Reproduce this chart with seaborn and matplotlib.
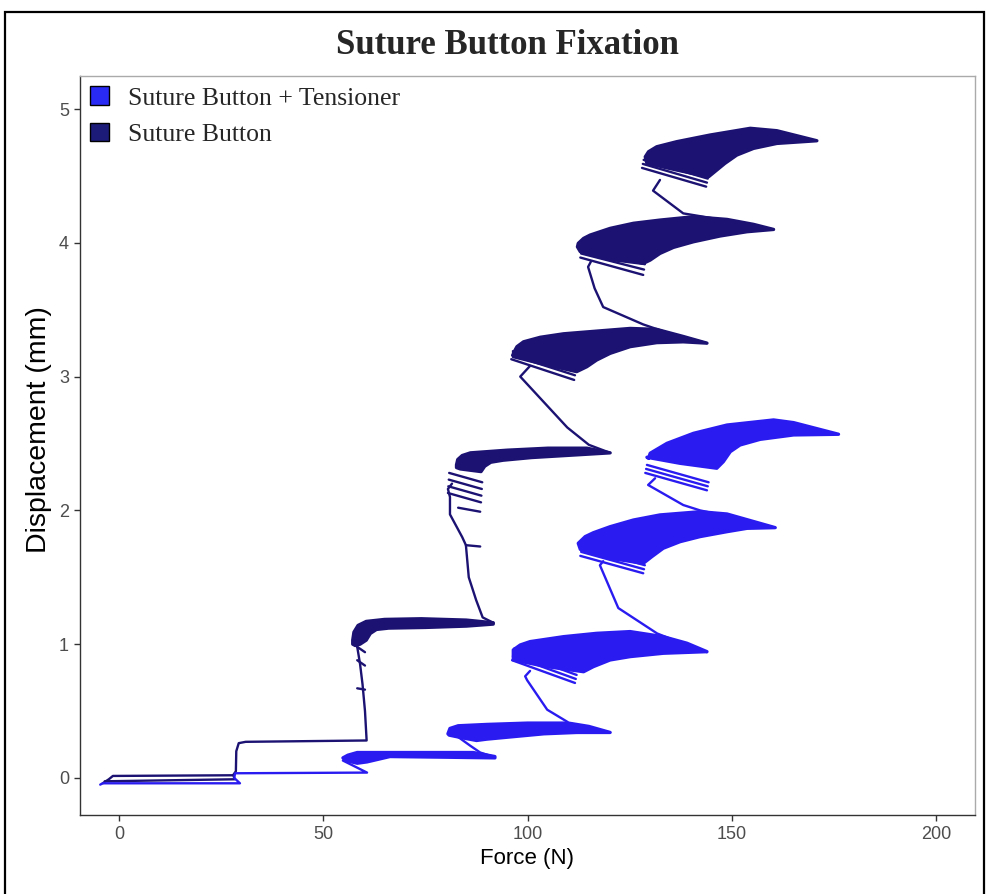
import matplotlib
matplotlib.use("Agg")
from matplotlib import pyplot as plt
from matplotlib.patches import Patch, Rectangle
import pandas as pd
import seaborn as sns

# colours of the two constructs
SB_COLOR = "#1b1272"
SBT_COLOR = "#2a1cf0"
SERIES = ["Suture Button + Tensioner", "Suture Button"]

# ---------------- Suture Button (force N, displacement mm) ----------------
# ramps between load steps
sb_ramps = [
    [(-4.0, -0.04), (-2.5, -0.01), (-1.5, 0.015), (27.9, 0.02), (28.6, 0.05),
     (28.7, 0.20), (29.3, 0.26), (31.0, 0.27), (60.6, 0.28), (60.2, 0.50),
     (59.6, 0.70), (59.0, 0.85), (58.3, 0.98), (57.3, 1.05)],
    [(-3.5, -0.025), (28.3, -0.01), (28.0, 0.02)],
    [(91.6, 1.16), (89.0, 1.20), (87.4, 1.33), (85.6, 1.50), (84.9, 1.74),
     (84.0, 1.80), (81.0, 1.97), (81.0, 2.10), (80.5, 2.16), (81.5, 2.20)],
    [(120.2, 2.43), (115.0, 2.49), (109.7, 2.62), (98.2, 3.00), (100.6, 3.08)],
    [(143.9, 3.25), (135.0, 3.32), (128.3, 3.39), (118.5, 3.52), (116.4, 3.66),
     (114.8, 3.82), (115.5, 3.86)],
    [(160.2, 4.10), (150.0, 4.16), (138.1, 4.22), (130.7, 4.39), (132.4, 4.47)],
]
# first loading cycles, still apart from the dense band
sb_first_cycles = [
    [(58.3, 0.98), (60.2, 0.94)], [(58.3, 0.88), (60.2, 0.84)],
    [(58.3, 0.67), (60.2, 0.66)],
    [(84.9, 1.74), (88.4, 1.73)], [(83.0, 2.02), (88.4, 1.99)],
    [(80.5, 2.13), (88.6, 2.06)], [(80.6, 2.18), (88.7, 2.11)],
    [(80.7, 2.23), (88.8, 2.16)], [(80.8, 2.28), (88.9, 2.21)],
    [(96.0, 3.13), (111.4, 2.975)], [(96.2, 3.16), (111.6, 3.01)],
    [(96.4, 3.19), (111.8, 3.04)],
    [(112.9, 3.89), (128.3, 3.76)], [(113.1, 3.92), (128.5, 3.80)],
    [(113.3, 3.95), (128.7, 3.84)],
    [(128.0, 4.56), (143.7, 4.42)], [(128.2, 4.59), (143.9, 4.45)],
    [(128.4, 4.62), (144.1, 4.48)],
]
# dense cyclic bands: (upper edge left->right, lower edge right->left)
sb_bands = [
    ([(57.2, 1.03), (57.5, 1.09), (58.5, 1.14), (60.5, 1.17), (65.0, 1.185),
      (74.0, 1.19), (85.0, 1.18), (91.6, 1.16)],
     [(91.6, 1.15), (85.0, 1.135), (75.0, 1.125), (66.0, 1.12), (63.0, 1.11),
      (61.5, 1.08), (60.5, 1.03), (59.0, 1.00), (57.8, 0.99), (57.2, 1.00)]),
    ([(82.6, 2.34), (82.9, 2.38), (84.0, 2.41), (86.0, 2.43), (95.0, 2.45),
      (105.0, 2.465), (114.5, 2.465), (120.2, 2.43)],
     [(120.2, 2.43), (112.0, 2.415), (101.0, 2.395), (94.0, 2.375), (91.0, 2.36),
      (89.5, 2.33), (88.6, 2.29), (86.0, 2.30), (83.5, 2.31), (82.6, 2.32)]),
    ([(96.5, 3.174), (97.4, 3.224), (99.0, 3.26), (103.1, 3.294), (108.8, 3.32),
      (116.9, 3.34), (125.1, 3.36), (131.6, 3.353), (138.1, 3.30), (143.9, 3.25)],
     [(143.9, 3.25), (138.1, 3.26), (131.6, 3.254), (125.1, 3.224), (120.2, 3.174),
      (116.9, 3.124), (114.5, 3.074), (112.0, 3.037), (104.7, 3.087), (96.5, 3.149)]),
    ([(112.4, 3.996), (113.7, 4.033), (115.3, 4.058), (120.2, 4.108), (125.9, 4.146),
      (132.4, 4.170), (140.6, 4.195), (148.8, 4.175), (155.3, 4.138), (160.2, 4.100)],
     [(160.2, 4.100), (153.7, 4.083), (147.1, 4.051), (140.6, 4.008), (135.7, 3.966),
      (132.4, 3.921), (130.0, 3.871), (128.3, 3.846), (120.2, 3.876), (112.9, 3.934),
      (112.2, 3.970)]),
    ([(128.8, 4.643), (129.6, 4.681), (131.6, 4.718), (136.5, 4.756), (144.7, 4.806),
      (154.5, 4.856), (161.0, 4.838), (170.8, 4.763)],
     [(170.8, 4.763), (161.0, 4.743), (155.3, 4.706), (151.2, 4.656), (148.3, 4.594),
      (146.3, 4.544), (144.3, 4.494), (136.5, 4.544), (129.2, 4.594)]),
]

# ---------------- Suture Button + Tensioner ----------------
sbt_ramps = [
    [(-4.6, -0.05), (-4.0, -0.04), (29.6, -0.04), (28.2, 0.0), (28.4, 0.035),
     (60.7, 0.04), (54.8, 0.13), (56.0, 0.16)],
    [(92.0, 0.155), (88.4, 0.19), (86.0, 0.24), (81.0, 0.35)],
    [(120.2, 0.34), (110.0, 0.41), (109.7, 0.42), (104.8, 0.51), (99.9, 0.73),
     (99.4, 0.76), (100.6, 0.80)],
    [(143.9, 0.94), (135.0, 1.04), (131.7, 1.08), (122.2, 1.27), (117.7, 1.59), (118.5, 1.62)],
    [(160.6, 1.87), (150.0, 1.95), (142.2, 2.00), (138.1, 2.04), (129.5, 2.19), (131.2, 2.24)],
]
sbt_first_cycles = [
    [(96.2, 0.88), (111.6, 0.71)], [(96.4, 0.91), (111.8, 0.74)],
    [(96.6, 0.94), (112.0, 0.77)], [(96.8, 0.97), (112.2, 0.80)],
    [(112.9, 1.66), (128.3, 1.53)], [(113.1, 1.69), (128.5, 1.56)],
    [(113.3, 1.72), (128.7, 1.59)],
    [(128.8, 2.28), (143.9, 2.15)], [(129.0, 2.31), (144.1, 2.18)],
    [(129.2, 2.34), (144.3, 2.21)],
]
sbt_bands = [
    ([(54.8, 0.15), (56.0, 0.17), (58.3, 0.19), (74.4, 0.19), (86.7, 0.19), (92.0, 0.16)],
     [(92.0, 0.15), (80.0, 0.155), (66.3, 0.16), (60.7, 0.12), (58.3, 0.11), (55.5, 0.13)]),
    ([(80.5, 0.33), (81.0, 0.37), (83.0, 0.39), (90.0, 0.40), (100.0, 0.41),
      (110.0, 0.41), (115.0, 0.385), (120.2, 0.34)],
     [(120.2, 0.34), (112.0, 0.34), (104.0, 0.33), (97.0, 0.31), (90.0, 0.29),
      (87.5, 0.28), (84.0, 0.30), (80.8, 0.32)]),
    ([(96.5, 0.957), (98.2, 0.994), (100.6, 1.019), (108.8, 1.056), (116.9, 1.081),
      (125.1, 1.094), (133.2, 1.056), (139.0, 1.007), (143.9, 0.944)],
     [(143.9, 0.944), (133.2, 0.932), (125.1, 0.907), (120.2, 0.882), (116.1, 0.832),
      (113.7, 0.794), (104.7, 0.832), (96.5, 0.882)]),
    ([(112.4, 1.754), (114.1, 1.804), (116.1, 1.833), (120.2, 1.878), (125.9, 1.928),
      (132.4, 1.966), (142.2, 1.990), (148.8, 1.973), (160.6, 1.871)],
     [(160.6, 1.871), (153.7, 1.866), (148.8, 1.841), (142.2, 1.804), (137.3, 1.766),
      (133.2, 1.717), (130.4, 1.654), (128.3, 1.604), (120.2, 1.642), (112.9, 1.709)]),
    ([(129.6, 2.389), (130.0, 2.427), (134.1, 2.501), (140.6, 2.576), (148.8, 2.638),
      (160.2, 2.676), (165.1, 2.656), (176.1, 2.569)],
     [(176.1, 2.569), (165.1, 2.564), (156.9, 2.531), (152.0, 2.489), (149.6, 2.439),
      (147.9, 2.364), (146.3, 2.315), (137.3, 2.352), (129.2, 2.397)]),
]

x_ticks = [0, 50, 100, 150, 200]
y_ticks = [0, 1, 2, 3, 4, 5]


def build_frame():
    rows = []
    for name, segs in [("Suture Button", sb_ramps + sb_first_cycles),
                       ("Suture Button + Tensioner", sbt_ramps + sbt_first_cycles)]:
        for i, seg in enumerate(segs):
            for f, d in seg:
                rows.append({"series": name, "seg": f"{name}-{i}", "force": f, "disp": d})
    return pd.DataFrame(rows)


sns.set_style("white")
plt.rcParams["font.family"] = ["Liberation Sans", "DejaVu Sans"]

fig = plt.figure(figsize=(9.86, 8.94), dpi=100)
ax = fig.add_axes([80 / 986, 1 - 815 / 894, 895 / 986, 739 / 894])

palette = {"Suture Button": SB_COLOR, "Suture Button + Tensioner": SBT_COLOR}
df = build_frame()
sns.lineplot(data=df, x="force", y="disp", hue="series", units="seg",
             estimator=None, sort=False, palette=palette, lw=1.7,
             legend=False, ax=ax)

for bands, color in [(sb_bands, SB_COLOR), (sbt_bands, SBT_COLOR)]:
    for upper, lower in bands:
        pts = upper + lower
        ax.fill([p[0] for p in pts], [p[1] for p in pts], color=color,
                lw=2.4, ec=color, joinstyle="round")

ax.set_xlim(-9.55, 209.5)
ax.set_ylim(-0.277, 5.247)
ax.set_xticks(x_ticks)
ax.set_yticks(y_ticks)
ax.tick_params(axis="both", length=4, width=1, color="#333333",
               labelcolor="#4d4d4d", labelsize=13, pad=4, direction="out",
               bottom=True, left=True)
for side in ["left", "bottom"]:
    ax.spines[side].set_color("#333333")
    ax.spines[side].set_linewidth(1.0)
for side in ["top", "right"]:
    ax.spines[side].set_color("#aaaaaa")
    ax.spines[side].set_linewidth(1.0)

ax.set_xlabel("Force (N)", fontsize=16, color="black")
ax.set_ylabel("Displacement (mm)", fontsize=20.5, color="black")
ax.xaxis.set_label_coords(0.5, -0.045)
ax.yaxis.set_label_coords(-0.031, 0.521)

handles = [Patch(facecolor="#2a2af5", edgecolor="black", lw=1.0),
           Patch(facecolor="#1c1c78", edgecolor="black", lw=1.0)]
ax.legend(handles, SERIES, loc="upper left", bbox_to_anchor=(0.011, 0.986),
          frameon=False, borderpad=0, borderaxespad=0, handlelength=0.75,
          handleheight=0.75, handletextpad=0.75, labelspacing=0.5,
          prop={"family": "Liberation Serif", "size": 18.5})

fig.text(507 / 986, 1 - 45 / 894, "Suture Button Fixation", ha="center",
         va="center", fontsize=25, fontweight="bold", family="Liberation Serif")

# black frame round the whole picture
fig.patches.append(Rectangle((5 / 986, -0.01), 979 / 986, 1.01 - 12 / 894,
                             transform=fig.transFigure, fill=False,
                             ec="black", lw=1.6))

fig.savefig("out.png", dpi=100)
